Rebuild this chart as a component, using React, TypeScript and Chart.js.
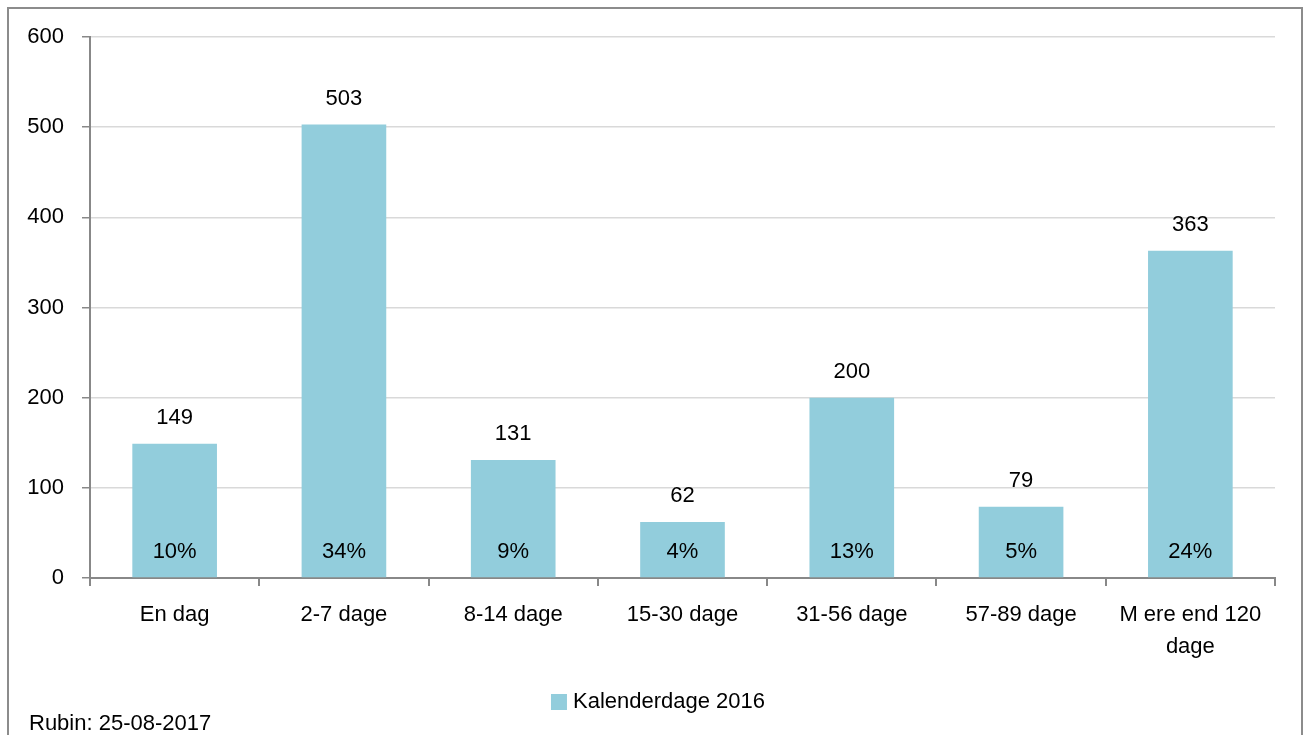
import React, { useEffect, useRef } from "react";
import { Chart, registerables } from "chart.js";

Chart.register(...registerables);

const categories: (string | string[])[] = [
  "En dag",
  "2-7 dage",
  "8-14 dage",
  "15-30 dage",
  "31-56 dage",
  "57-89 dage",
  ["M ere end 120", "dage"],
];
const values = [149, 503, 131, 62, 200, 79, 363];
const percentLabels = ["10%", "34%", "9%", "4%", "13%", "5%", "24%"];
const seriesName = "Kalenderdage 2016";
const sourceNote = "Rubin: 25-08-2017";
const yTicks = [0, 100, 200, 300, 400, 500, 600];

const FONT = "'Liberation Sans', Arial, sans-serif";
const BAR_COLOR = "#92CDDC";

const labelPlugin = {
  id: "labels",
  afterDatasetsDraw(chart: any) {
    const ctx = chart.ctx;
    const meta = chart.getDatasetMeta(0);
    const yScale = chart.scales.y;
    ctx.save();
    ctx.font = `22px ${FONT}`;
    ctx.fillStyle = "#000";
    ctx.textAlign = "center";
    ctx.textBaseline = "middle";
    meta.data.forEach((bar: any, i: number) => {
      ctx.fillText(String(values[i]), bar.x, bar.y - 26);
      ctx.fillText(percentLabels[i], bar.x, yScale.getPixelForValue(0) - 26);
    });
    // legend
    const tw = ctx.measureText(seriesName).width;
    const box = 16;
    const gap = 6;
    const total = box + gap + tw;
    const cx = 658;
    const sx = cx - total / 2;
    const ly = 702;
    ctx.fillStyle = BAR_COLOR;
    ctx.fillRect(sx, ly - box / 2, box, box);
    ctx.fillStyle = "#000";
    ctx.textAlign = "left";
    ctx.fillText(seriesName, sx + box + gap, ly);
    // source
    ctx.fillText(sourceNote, 29, 724);
    ctx.restore();
  },
};

export default function App() {
  const ref = useRef<HTMLCanvasElement>(null);
  useEffect(() => {
    document.body.style.margin = "0";
    const chart = new Chart(ref.current!, {
      type: "bar",
      data: {
        labels: categories as any,
        datasets: [
          {
            label: seriesName,
            data: values,
            backgroundColor: BAR_COLOR,
            barPercentage: 0.5,
            categoryPercentage: 1,
          },
        ],
      },
      options: {
        animation: false,
        responsive: false,
        layout: { padding: { left: 0, right: 30, top: 37, bottom: 0 } },
        plugins: { legend: { display: false }, tooltip: { enabled: false } },
        scales: {
          x: {
            afterFit(scale: any) {
              scale.height = 157;
            },
            grid: {
              drawOnChartArea: false,
              offset: true,
              tickLength: 8,
              color: "#888",
              lineWidth: 2,
            },
            border: { color: "#888", width: 2 },
            ticks: {
              color: "#000",
              font: { family: FONT, size: 22, lineHeight: 32 / 22 },
              padding: 13,
              maxRotation: 0,
              autoSkip: false,
            },
          },
          y: {
            min: 0,
            max: 600,
            afterFit(scale: any) {
              scale.width = 90;
            },
            afterBuildTicks(scale: any) {
              scale.ticks = yTicks.map((v) => ({ value: v }));
            },
            grid: {
              color: "#d9d9d9",
              tickColor: "#888",
              tickLength: 8,
              lineWidth: 1.5,
            },
            border: { color: "#888", width: 2 },
            ticks: {
              color: "#000",
              font: { family: FONT, size: 22 },
              padding: 18,
            },
          },
        },
      },
      plugins: [labelPlugin],
    });
    return () => chart.destroy();
  }, []);
  return (
    <div style={{ position: "absolute", left: 0, top: 0, width: 1305, height: 735, background: "#fff", overflow: "hidden" }}>
      <div
        style={{
          position: "absolute",
          left: 7,
          top: 7,
          width: 1296,
          height: 740,
          border: "2px solid #8c8c8c",
          boxSizing: "border-box",
        }}
      />
      <canvas ref={ref} width={1305} height={735} style={{ position: "absolute", left: 0, top: 0 }} />
    </div>
  );
}
